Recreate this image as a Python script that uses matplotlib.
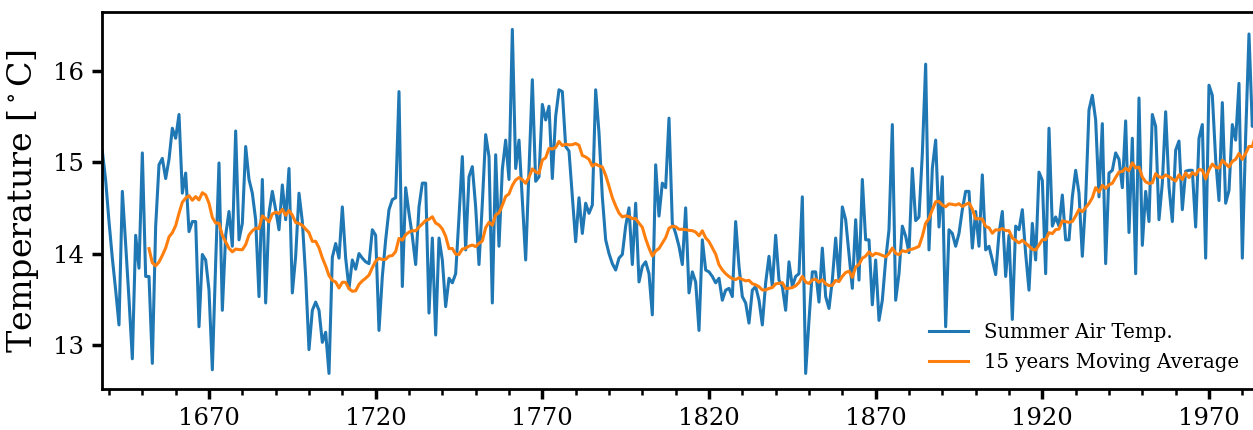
import numpy as np
import pandas as pd
import matplotlib
matplotlib.use("Agg")
import matplotlib.pyplot as plt
from matplotlib.ticker import MultipleLocator

first_year = 1638
temps = [
    15.12, 14.8, 14.35, 13.95, 13.6, 13.22, 14.68, 14.1, 13.5, 12.85,      # 1638-1647
    14.2, 13.84, 15.1, 13.75, 13.75, 12.8, 14.3, 14.97, 15.04, 14.82,      # 1648-1657
    15.03, 15.37, 15.26, 15.52, 14.66, 14.88, 14.24, 14.35, 14.35, 13.2,   # 1658-1667
    13.99, 13.93, 13.6, 12.73, 13.9, 14.99, 13.38, 14.2, 14.46, 14.08,     # 1668-1677
    15.34, 14.15, 14.33, 15.17, 14.81, 14.66, 14.37, 13.53, 14.81, 13.46,  # 1678-1687
    14.44, 14.68, 14.48, 14.26, 14.75, 14.37, 14.93, 13.57, 13.97, 14.66,  # 1688-1697
    14.35, 13.75, 12.95, 13.38, 13.47, 13.38, 13.03, 13.14, 12.69, 13.96,  # 1698-1707
    14.11, 13.95, 14.51, 13.95, 13.62, 13.93, 13.83, 14.0, 13.95, 13.91,   # 1708-1717
    13.89, 14.26, 14.2, 13.16, 13.75, 14.15, 14.48, 14.59, 14.61, 15.77,   # 1718-1727
    13.64, 14.72, 14.44, 14.19, 13.88, 14.51, 14.77, 14.77, 13.35, 14.17,  # 1728-1737
    13.11, 14.17, 13.93, 13.42, 13.73, 13.68, 13.78, 14.4, 15.06, 14.04,   # 1738-1747
    14.84, 14.95, 14.51, 13.88, 14.55, 15.3, 15.06, 13.46, 15.08, 14.08,   # 1748-1757
    14.92, 15.24, 14.81, 16.45, 14.93, 15.24, 14.59, 13.93, 14.9, 15.9,    # 1758-1767
    14.79, 14.84, 15.63, 15.46, 15.61, 14.82, 15.5, 15.79, 15.77, 15.17,   # 1768-1777
    15.12, 14.62, 14.13, 14.61, 14.22, 14.55, 14.44, 14.53, 15.79, 15.32,  # 1778-1787
    14.62, 14.15, 14.0, 13.89, 13.82, 13.95, 13.99, 14.3, 14.5, 13.88,     # 1788-1797
    14.55, 13.69, 13.86, 13.91, 13.78, 13.33, 14.97, 14.41, 14.77, 14.72,  # 1798-1807
    15.48, 14.33, 14.22, 14.08, 13.88, 14.5, 13.57, 13.8, 13.69, 13.16,    # 1808-1817
    14.15, 13.82, 13.8, 13.75, 13.68, 13.73, 13.49, 13.6, 13.62, 13.53,    # 1818-1827
    14.35, 13.86, 13.53, 13.46, 13.24, 13.6, 13.64, 13.49, 13.22, 13.68,   # 1828-1837
    13.97, 13.64, 14.2, 13.71, 13.64, 13.38, 13.91, 13.64, 13.75, 13.78,   # 1838-1847
    14.62, 12.69, 13.27, 13.8, 13.8, 13.47, 14.06, 13.53, 13.4, 13.71,     # 1848-1857
    14.17, 13.71, 14.51, 14.37, 14.0, 13.62, 14.37, 13.71, 14.81, 14.15,   # 1858-1867
    14.15, 13.44, 13.93, 13.27, 13.49, 13.93, 14.26, 15.41, 13.49, 13.78,  # 1868-1877
    14.3, 14.19, 14.01, 14.93, 14.36, 14.4, 15.09, 16.07, 14.04, 14.93,    # 1878-1887
    15.24, 14.29, 14.84, 13.2, 14.26, 14.22, 14.08, 14.22, 14.48, 14.68,   # 1888-1897
    14.68, 14.06, 14.46, 14.08, 14.86, 14.04, 14.08, 13.93, 13.77, 14.22,  # 1898-1907
    14.46, 13.75, 14.2, 13.28, 14.3, 14.26, 14.48, 14.0, 13.6, 14.33,      # 1908-1917
    13.93, 14.89, 14.8, 13.78, 15.37, 14.3, 14.4, 14.3, 14.64, 14.15,      # 1918-1927
    14.15, 14.62, 14.91, 14.66, 13.97, 14.59, 15.57, 15.73, 15.46, 14.62,  # 1928-1937
    15.42, 13.89, 14.88, 14.91, 15.1, 15.03, 14.72, 15.45, 14.23, 15.26,   # 1938-1947
    13.78, 15.7, 14.09, 14.68, 14.35, 15.52, 15.39, 14.37, 14.77, 15.55,   # 1948-1957
    14.73, 14.35, 15.13, 15.23, 14.48, 14.9, 14.91, 14.91, 14.29, 15.26,   # 1958-1967
    15.41, 13.95, 15.84, 15.73, 15.03, 14.58, 15.65, 14.55, 14.69, 15.41,  # 1968-1977
    15.24, 15.86, 13.95, 15.28, 16.4, 15.39, 15.83,                        # 1978-1984
]
years = np.arange(first_year, first_year + len(temps))
window = 15
series_labels = ["Summer Air Temp.", "15 years Moving Average"]
y_ticks = [13, 14, 15, 16]
x_major = [1670, 1720, 1770, 1820, 1870, 1920, 1970]

s = pd.Series(temps, index=years)
ma = s.rolling(window).mean()

plt.rcParams["font.family"] = ["DejaVu Serif"]
plt.rcParams["mathtext.fontset"] = "dejavuserif"

fig = plt.figure(figsize=(12.53, 4.30), dpi=100)
x_left, x_right = 1638, 1984
px_per_year = 3.3333
ax_left_px = 209 - (1670 - x_left) * px_per_year
ax_w_px = (x_right - x_left) * px_per_year
ax = fig.add_axes([ax_left_px / 1253, 41 / 430, ax_w_px / 1253, 377 / 430])

ax.plot(s.index, s.values, color="#1f77b4", lw=2.2, label=series_labels[0])
ax.plot(ma.index, ma.values, color="#ff7f0e", lw=2.2, label=series_labels[1])

ax.set_xlim(x_left, x_right)
ax.set_ylim(12.52, 16.64)
ax.set_xticks(x_major)
ax.xaxis.set_minor_locator(MultipleLocator(10))
ax.set_yticks(y_ticks)

for side in ["left", "bottom", "top"]:
    ax.spines[side].set_linewidth(2.0)
ax.spines["right"].set_visible(False)

ax.tick_params(axis="both", which="major", direction="out", length=7, width=2.5,
               labelsize=17.5, pad=6)
ax.tick_params(axis="x", which="minor", direction="out", length=4.5, width=1.8)

ax.set_ylabel(r"Temperature [$^\circ$C]", fontsize=24, labelpad=9)

ax.legend(loc="lower right", frameon=False, fontsize=14.2, handlelength=2.0,
          handletextpad=0.8, borderaxespad=0.45, labelspacing=0.55)

fig.savefig("out.png", dpi=100)
